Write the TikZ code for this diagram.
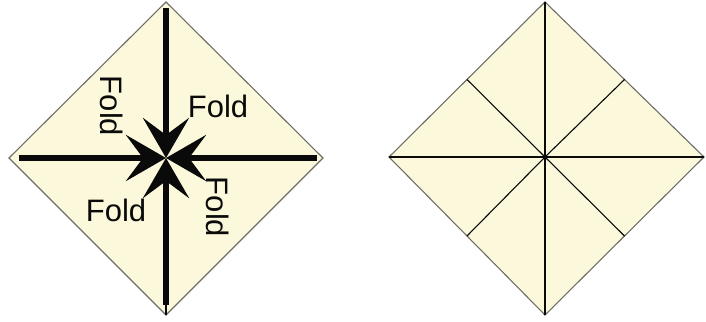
\documentclass[tikz,border=0pt]{standalone}
\usepackage{fontspec}
\setmainfont{Liberation Sans}
\usetikzlibrary{arrows.meta,calc}
\definecolor{fdPaper}{HTML}{FBF8DB}
\definecolor{fdEdge}{HTML}{6E6E66}
\definecolor{fdInk}{HTML}{0A0A0A}
\tikzset{
  fdSheet/.style={draw=fdEdge,fill=fdPaper,line width=1.1pt,line join=miter},
  fdFold/.style={-{Stealth[length=40pt,width=46pt,inset=17pt]},line width=5.5pt,draw=fdInk},
  fdCrease/.style={draw=fdInk,line width=1.1pt},
  fdLabel/.style={font=\fontsize{31}{31}\selectfont,text=fdInk,inner sep=0pt}
}
\begin{document}
\begin{tikzpicture}[x=1pt,y=-1pt]
\path[use as bounding box] (0,0) rectangle (706,321);
% left sheet, folds towards the middle
\coordinate (lT) at (166,2);
\coordinate (lR) at (323,158);
\coordinate (lB) at (166,315);
\coordinate (lL) at (9,158);
\coordinate (lC) at (166,158);
\draw[fdSheet] (lT) -- (lR) -- (lB) -- (lL) -- cycle;
\coordinate (lTs) at (166,8);
\coordinate (lRs) at (317,158);
\coordinate (lBs) at (166,305);
\coordinate (lLs) at (19,158);
\draw[fdInk,line width=1.6pt] (lBs) -- (lB);
\draw[fdFold] (lTs) -- (lC);
\draw[fdFold] (lRs) -- (lC);
\draw[fdFold] (lBs) -- (lC);
\draw[fdFold] (lLs) -- (lC);
\node[fdLabel] (foldNE) at (218,106) {Fold};
\node[fdLabel] (foldSW) at (116,210) {Fold};
\node[fdLabel,rotate=-90] (foldNW) at (112,106) {Fold};
\node[fdLabel,rotate=-90] (foldSE) at (218,207) {Fold};
% right sheet, creases after folding
\coordinate (rT) at (545,2);
\coordinate (rR) at (704,157);
\coordinate (rB) at (545,315);
\coordinate (rL) at (389,157);
\coordinate (rC) at (545,157);
\draw[fdSheet] (rT) -- (rR) -- (rB) -- (rL) -- cycle;
\draw[fdCrease] (rT) -- (rC);
\draw[fdCrease,line width=1.8pt] (rC) -- (rB);
\draw[fdCrease] (rL) -- (rR);
\draw[fdCrease] (rC) -- ($(rT)!.5!(rL)$);
\draw[fdCrease] (rC) -- ($(rT)!.5!(rR)$);
\draw[fdCrease] (rC) -- ($(rB)!.5!(rL)$);
\draw[fdCrease] (rC) -- ($(rB)!.5!(rR)$);
\end{tikzpicture}
\end{document}
